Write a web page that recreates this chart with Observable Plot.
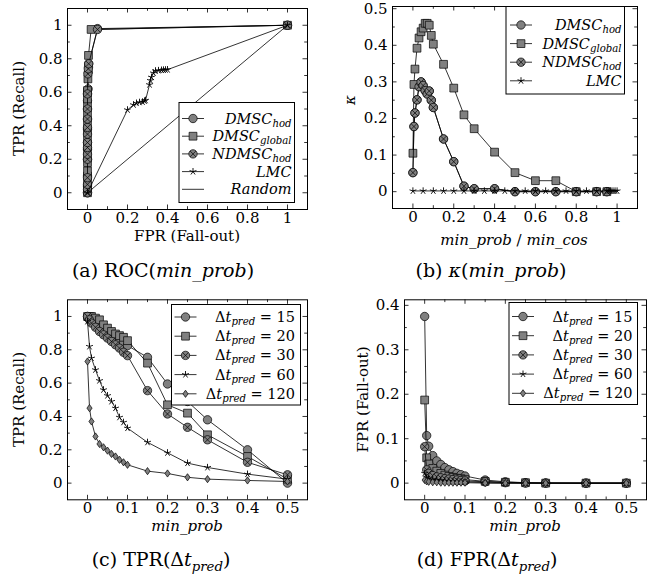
<!DOCTYPE html>
<html><head><meta charset="utf-8">
<script src="https://cdn.jsdelivr.net/npm/d3@7"></script>
<script src="https://cdn.jsdelivr.net/npm/@observablehq/plot@0.6"></script>
<style>
html,body{margin:0;padding:0;background:#fff;}
#wrap{position:relative;width:654px;height:582px;overflow:hidden;background:#fff;font-family:"DejaVu Serif",serif;}
#wrap svg{position:absolute;}
</style></head><body><div id="wrap"></div>
<script>
// ---------- (a) ROC(min_prob) ----------
const rocHodFpr = [0, 0, 0, 0, 0, 0, 0, 0, 0, 0, 0, 0.003, 0.004, 0.005, 0.006, 0.05, 1];
const rocHodTpr = [0, 0.04, 0.1, 0.2, 0.26, 0.3, 0.38, 0.44, 0.5, 0.55, 0.59, 0.62, 0.72, 0.75, 0.77, 0.98, 1];
const rocGlobalFpr = [0, 0, 0, 0, 0, 0, 0, 0, 0, 0, 0, 0, 0, 0, 0, 0, 0.002, 0.005, 0.018, 1];
const rocGlobalTpr = [0, 0.03, 0.06, 0.1, 0.13, 0.18, 0.22, 0.27, 0.32, 0.37, 0.42, 0.47, 0.52, 0.56, 0.6, 0.61, 0.68, 0.82, 0.975, 1];
const rocNdFpr = [0, 0, 0, 0, 0, 0, 0, 0, 0, 0, 0, 0, 0, 0.002, 0.004, 0.006, 0.05, 1];
const rocNdTpr = [0, 0.02, 0.05, 0.09, 0.2, 0.23, 0.27, 0.3, 0.35, 0.39, 0.44, 0.5, 0.59, 0.71, 0.74, 0.77, 0.975, 1];
const rocLmcFpr = [0, 0.2, 0.23, 0.245, 0.26, 0.275, 0.285, 0.29, 0.31, 0.315, 0.32, 0.33, 0.34, 0.355, 0.37, 0.38, 0.39, 0.4, 1];
const rocLmcTpr = [0, 0.495, 0.525, 0.535, 0.54, 0.542, 0.548, 0.552, 0.645, 0.67, 0.69, 0.715, 0.728, 0.73, 0.732, 0.733, 0.734, 0.735, 1];
const rocRandomFpr = [0, 1];
const rocRandomTpr = [0, 1];

// ---------- (b) kappa(min_prob) ----------
const kappaX = [0, 0.005, 0.01, 0.02, 0.03, 0.04, 0.05, 0.06, 0.07, 0.08, 0.09, 0.1, 0.15, 0.2, 0.25, 0.3, 0.4, 0.5, 0.6, 0.7, 0.8, 0.9, 0.95];
const kappaHod = [0.052, 0.178, 0.215, 0.251, 0.287, 0.3, 0.29, 0.276, 0.267, 0.275, 0.25, 0.23, 0.144, 0.082, 0.015, 0.008, 0.008, 0, 0, 0, 0, 0, 0];
const kappaGlobal = [0.105, 0.293, 0.335, 0.392, 0.42, 0.437, 0.447, 0.46, 0.46, 0.455, 0.427, 0.403, 0.348, 0.283, 0.21, 0.172, 0.108, 0.052, 0.03, 0.03, 0, 0, 0];
const kappaNd = [0.052, 0.178, 0.215, 0.251, 0.287, 0.3, 0.29, 0.276, 0.267, 0.275, 0.25, 0.23, 0.144, 0.082, 0.015, 0.008, 0.008, 0, 0, 0, 0, 0, 0];
const kappaLmcX = [0, 0.05, 0.1, 0.15, 0.2, 0.25, 0.3, 0.35, 0.4, 0.45, 0.5, 0.55, 0.6, 0.65, 0.7, 0.75, 0.8, 0.85, 0.9, 0.95, 0.96, 0.97, 0.98, 0.99, 1];
const kappaLmc = [0.002, 0.002, 0.002, 0.002, 0.002, 0.002, 0.002, 0.002, 0.002, 0.002, 0.002, 0.002, 0.002, 0.002, 0.002, 0.002, 0.002, 0.002, 0.002, 0.002, 0.002, 0.002, 0.002, 0.002, 0.002];

// ---------- (c) TPR(dt_pred), (d) FPR(dt_pred) ----------
const minProb = [0, 0.005, 0.01, 0.02, 0.03, 0.04, 0.05, 0.06, 0.07, 0.08, 0.09, 0.1, 0.15, 0.2, 0.25, 0.3, 0.4, 0.5];
const tpr15  = [1.0, 0.99, 0.98, 0.96, 0.94, 0.925, 0.905, 0.89, 0.87, 0.855, 0.84, 0.825, 0.755, 0.595, 0.49, 0.38, 0.2, 0.0];
const tpr20  = [1.0, 1.0, 1.0, 0.99, 0.98, 0.95, 0.93, 0.91, 0.895, 0.885, 0.875, 0.855, 0.72, 0.47, 0.42, 0.29, 0.16, 0.024];
const tpr30  = [1.0, 0.98, 0.96, 0.935, 0.91, 0.89, 0.87, 0.85, 0.83, 0.81, 0.785, 0.765, 0.555, 0.415, 0.335, 0.26, 0.125, 0.05];
const tpr60  = [0.97, 0.82, 0.75, 0.68, 0.615, 0.56, 0.525, 0.49, 0.45, 0.395, 0.365, 0.33, 0.245, 0.182, 0.12, 0.094, 0.054, 0.024];
const tpr120 = [0.73, 0.45, 0.37, 0.28, 0.235, 0.215, 0.195, 0.175, 0.16, 0.14, 0.125, 0.11, 0.072, 0.058, 0.035, 0.024, 0.016, 0.01];
const fpr15  = [0.375, 0.107, 0.083, 0.062, 0.05, 0.042, 0.035, 0.03, 0.026, 0.022, 0.019, 0.016, 0.007, 0.003, 0.001, 0.0005, 0, 0];
const fpr20  = [0.187, 0.057, 0.043, 0.033, 0.027, 0.022, 0.018, 0.015, 0.013, 0.011, 0.01, 0.008, 0.004, 0.002, 0.001, 0, 0, 0];
const fpr30  = [0.082, 0.03, 0.022, 0.017, 0.014, 0.012, 0.01, 0.009, 0.008, 0.007, 0.006, 0.005, 0.003, 0.001, 0, 0, 0, 0];
const fpr60  = [0.022, 0.013, 0.01, 0.008, 0.007, 0.006, 0.005, 0.004, 0.004, 0.003, 0.003, 0.003, 0.001, 0, 0, 0, 0, 0];
const fpr120 = [0.007, 0.004, 0.003, 0.002, 0.002, 0.001, 0.001, 0.001, 0.001, 0.001, 0.001, 0.001, 0, 0, 0, 0, 0, 0];

// ---------- ticks ----------
const ticks01 = [0, 0.2, 0.4, 0.6, 0.8, 1];
const ticks01Minor = [0.1, 0.3, 0.5, 0.7, 0.9];
const ticksHalf = [0, 0.1, 0.2, 0.3, 0.4, 0.5];
const ticksHalfMinor = [0.05, 0.15, 0.25, 0.35, 0.45];
const ticksKappa = [0, 0.1, 0.2, 0.3, 0.4, 0.5];
const ticksKappaMinor = [0.05, 0.15, 0.25, 0.35, 0.45];
const ticksFpr = [0, 0.1, 0.2, 0.3, 0.4];
const ticksFprMinor = [0.05, 0.15, 0.25, 0.35];

// ---------- markers ----------
const GRAY = "#808080";
const rad = s => Math.sqrt(s / Math.PI);
const symCircle = {draw(c, s){ const r = rad(s); c.moveTo(r, 0); c.arc(0, 0, r, 0, 2*Math.PI); c.closePath(); }};
const symSquare = {draw(c, s){ const r = rad(s); c.rect(-r, -r, 2*r, 2*r); }};
const symOtimes = {draw(c, s){ const r = rad(s); c.moveTo(r, 0); c.arc(0, 0, r, 0, 2*Math.PI); c.closePath();
  const k = r*Math.SQRT1_2; c.moveTo(-k, -k); c.lineTo(k, k); c.moveTo(-k, k); c.lineTo(k, -k); }};
const symStar = {draw(c, s){ const r = rad(s); for (let i = 0; i < 5; i++){ const a = -Math.PI/2 + i*2*Math.PI/5; c.moveTo(0, 0); c.lineTo(r*Math.cos(a), r*Math.sin(a)); } }};
const symDiamond = {draw(c, s){ const r = rad(s); const w = 0.72*r; c.moveTo(0, -r); c.lineTo(w, 0); c.lineTo(0, r); c.lineTo(-w, 0); c.closePath(); }};

const STY = {
  circle:  {symbol: symCircle,  r: 4.2, fill: GRAY, stroke: "black", strokeWidth: 0.7},
  square:  {symbol: symSquare,  r: 3.9, fill: GRAY, stroke: "black", strokeWidth: 0.7},
  otimes:  {symbol: symOtimes,  r: 4.2, fill: GRAY, stroke: "black", strokeWidth: 0.7},
  star:    {symbol: symStar,    r: 3.6, fill: "none", stroke: "black", strokeWidth: 0.9},
  diamond: {symbol: symDiamond, r: 3.6, fill: GRAY, stroke: "black", strokeWidth: 0.7},
  none: null
};

function rows(xs, ys){ return xs.map((x, i) => ({x, y: ys[i]})); }
function series(xs, ys, kind){
  const t = rows(xs, ys);
  const m = [Plot.line(t, {x: "x", y: "y", stroke: "black", strokeWidth: 0.8})];
  if (STY[kind]) m.push(Plot.dot(t, {x: "x", y: "y", ...STY[kind]}));
  return m;
}

const wrap = document.getElementById("wrap");

function panel(o){
  const fw = o.width - o.ml - o.mr, fh = o.height - o.mt - o.mb;
  const MJ = 4.5, MN = 2.8;
  const tk = [];
  for (const [arr, L] of [[o.xTicks, MJ], [o.xMinor, MN]]) {
    tk.push(Plot.tickX(arr, {x: d => d, insetTop: fh - L, stroke: "black", strokeWidth: 0.8}));
    tk.push(Plot.tickX(arr, {x: d => d, insetBottom: fh - L, stroke: "black", strokeWidth: 0.8}));
  }
  for (const [arr, L] of [[o.yTicks, MJ], [o.yMinor, MN]]) {
    tk.push(Plot.tickY(arr, {y: d => d, insetRight: fw - L, stroke: "black", strokeWidth: 0.8}));
    tk.push(Plot.tickY(arr, {y: d => d, insetLeft: fw - L, stroke: "black", strokeWidth: 0.8}));
  }
  const svg = Plot.plot({
    width: o.width, height: o.height,
    marginLeft: o.ml, marginRight: o.mr, marginTop: o.mt, marginBottom: o.mb,
    x: {domain: o.xDomain}, y: {domain: o.yDomain},
    style: {fontFamily: "DejaVu Serif", fontSize: "15px", background: "transparent", color: "black", overflow: "visible"},
    marks: [
      ...o.marks,
      ...tk,
      Plot.frame({stroke: "black", strokeWidth: 1}),
      Plot.axisX(o.xTicks, {anchor: "bottom", tickSize: 0, tickPadding: 3, label: null, tickFormat: d => String(d), fill: "black"}),
      Plot.axisY(o.yTicks, {anchor: "left", tickSize: 0, tickPadding: 5, label: null, tickFormat: d => String(d), fill: "black"})
    ]
  });
  svg.style.left = o.left + "px";
  svg.style.top = o.top + "px";
  wrap.appendChild(svg);
}

// (a)
panel({left: 0, top: 0, width: 320, height: 240, ml: 67, mr: 13, mt: 8, mb: 31,
  xDomain: [-0.1, 1.1], yDomain: [-0.1, 1.1],
  xTicks: ticks01, xMinor: ticks01Minor, yTicks: ticks01, yMinor: ticks01Minor,
  marks: [
    ...series(rocHodFpr, rocHodTpr, "circle"),
    ...series(rocGlobalFpr, rocGlobalTpr, "square"),
    ...series(rocNdFpr, rocNdTpr, "otimes"),
    ...series(rocLmcFpr, rocLmcTpr, "star"),
    ...series(rocRandomFpr, rocRandomTpr, "none")
  ]});
// (b)
panel({left: 330, top: 0, width: 324, height: 240, ml: 62, mr: 17, mt: 6, mb: 32,
  xDomain: [-0.1, 1.1], yDomain: [-0.046, 0.506],
  xTicks: ticks01, xMinor: ticks01Minor, yTicks: ticksKappa, yMinor: ticksKappaMinor,
  marks: [
    ...series(kappaX, kappaHod, "circle"),
    ...series(kappaX, kappaGlobal, "square"),
    ...series(kappaX, kappaNd, "otimes"),
    ...series(kappaLmcX, kappaLmc, "star")
  ]});
// (c)
panel({left: 0, top: 290, width: 320, height: 240, ml: 67, mr: 13, mt: 9.3, mb: 30.7,
  xDomain: [-0.05, 0.55], yDomain: [-0.1, 1.1],
  xTicks: ticksHalf, xMinor: ticksHalfMinor, yTicks: ticks01, yMinor: ticks01Minor,
  marks: [
    ...series(minProb, tpr15, "circle"),
    ...series(minProb, tpr20, "square"),
    ...series(minProb, tpr30, "otimes"),
    ...series(minProb, tpr60, "star"),
    ...series(minProb, tpr120, "diamond")
  ]});
// (d)
panel({left: 330, top: 290, width: 324, height: 240, ml: 74, mr: 8, mt: 9.3, mb: 30.7,
  xDomain: [-0.05, 0.55], yDomain: [-0.0375, 0.4125],
  xTicks: ticksHalf, xMinor: ticksHalfMinor, yTicks: ticksFpr, yMinor: ticksFprMinor,
  marks: [
    ...series(minProb, fpr15, "circle"),
    ...series(minProb, fpr20, "square"),
    ...series(minProb, fpr30, "otimes"),
    ...series(minProb, fpr60, "star"),
    ...series(minProb, fpr120, "diamond")
  ]});

// ---------- overlay: legends, axis titles, captions ----------
const ov = d3.select(wrap).append("svg").attr("width", 654).attr("height", 582)
  .style("left", "0px").style("top", "0px")
  .attr("font-family", "DejaVu Serif").attr("fill", "black");

function richText(g, x, y, parts, opt = {}){
  const base = opt.size || 15;
  const t = g.append("text").attr("x", x).attr("y", y)
    .attr("text-anchor", opt.anchor || "middle").attr("font-size", base);
  if (opt.rotate) t.attr("transform", `rotate(-90 ${x} ${y})`);
  let shift = 0;
  for (const p of parts) {
    const s = t.append("tspan").text(p.t);
    if (p.i) s.attr("font-style", "italic");
    const want = p.sub ? (opt.subShift ?? Math.round(base * 0.27)) : 0;
    if (want !== shift) { s.attr("dy", want - shift); shift = want; }
    if (p.sub) s.attr("font-size", base * 0.7);
  }
  return t;
}

const markerPath = sym => { const p = d3.path(); sym.symbol.draw(p, Math.PI * sym.r * sym.r); return p.toString(); };

function legend(box, entries){
  const g = ov.append("g");
  g.append("rect").attr("x", box.x).attr("y", box.y).attr("width", box.w).attr("height", box.h)
    .attr("fill", "white").attr("stroke", "black").attr("stroke-width", 1);
  entries.forEach((e, i) => {
    const cy = box.y0 + i * box.dy;
    g.append("line").attr("x1", box.sx0).attr("x2", box.sx1).attr("y1", cy).attr("y2", cy)
      .attr("stroke", "black").attr("stroke-width", 0.8);
    if (STY[e.kind]) {
      const s = STY[e.kind];
      g.append("path").attr("d", markerPath(s)).attr("transform", `translate(${(box.sx0 + box.sx1)/2},${cy})`)
        .attr("fill", s.fill).attr("stroke", s.stroke).attr("stroke-width", s.strokeWidth);
    }
    richText(g, box.tx, cy + 5, e.parts, {anchor: "end", size: 14.5, subShift: 3});
  });
}

const lbl = (name, sub) => [{t: name, i: true}, {t: sub, i: true, sub: true}];
const dtp = v => [{t: "Δ"}, {t: "t", i: true}, {t: "pred", i: true, sub: true}, {t: " = " + v}];

legend({x: 179, y: 102.5, w: 115.5, h: 100, y0: 118.5, dy: 17.7, sx0: 182, sx1: 204, tx: 291.5}, [
  {kind: "circle", parts: lbl("DMSC", "hod")},
  {kind: "square", parts: lbl("DMSC", "global")},
  {kind: "otimes", parts: lbl("NDMSC", "hod")},
  {kind: "star", parts: [{t: "LMC", i: true}]},
  {kind: "none", parts: [{t: "Random", i: true}]}
]);
legend({x: 506, y: 6.5, w: 118.5, h: 87.5, y0: 25, dy: 18.6, sx0: 510, sx1: 532, tx: 621.5}, [
  {kind: "circle", parts: lbl("DMSC", "hod")},
  {kind: "square", parts: lbl("DMSC", "global")},
  {kind: "otimes", parts: lbl("NDMSC", "hod")},
  {kind: "star", parts: [{t: "LMC", i: true}]}
]);
legend({x: 171.5, y: 304.5, w: 129, h: 100.5, y0: 317, dy: 19.2, sx0: 174.5, sx1: 196.5, tx: 295}, [
  {kind: "circle", parts: dtp(15)},
  {kind: "square", parts: dtp(20)},
  {kind: "otimes", parts: dtp(30)},
  {kind: "star", parts: dtp(60)},
  {kind: "diamond", parts: dtp(120)}
]);
legend({x: 509, y: 302.5, w: 128.5, h: 102, y0: 316.5, dy: 19.2, sx0: 512, sx1: 534, tx: 632.5}, [
  {kind: "circle", parts: dtp(15)},
  {kind: "square", parts: dtp(20)},
  {kind: "otimes", parts: dtp(30)},
  {kind: "star", parts: dtp(60)},
  {kind: "diamond", parts: dtp(120)}
]);

// axis titles
richText(ov, 187, 241, [{t: "FPR (Fall-out)"}]);
richText(ov, 514, 245, [{t: "min_prob", i: true}, {t: " / "}, {t: "min_cos", i: true}]);
richText(ov, 187, 531, [{t: "min_prob", i: true}]);
richText(ov, 525, 531, [{t: "min_prob", i: true}]);
richText(ov, 24, 108.5, [{t: "TPR (Recall)"}], {rotate: true});
richText(ov, 355, 100, [{t: "κ", i: true}], {rotate: true});
richText(ov, 24, 399.5, [{t: "TPR (Recall)"}], {rotate: true});
richText(ov, 368, 399.5, [{t: "FPR (Fall-out)"}], {rotate: true});

// captions
richText(ov, 163, 277, [{t: "(a) ROC("}, {t: "min_prob", i: true}, {t: ")"}], {size: 19});
richText(ov, 491, 277, [{t: "(b) "}, {t: "κ", i: true}, {t: "("}, {t: "min_prob", i: true}, {t: ")"}], {size: 19});
richText(ov, 161, 566, [{t: "(c) TPR(Δ"}, {t: "t", i: true}, {t: "pred", i: true, sub: true}, {t: ")"}], {size: 19});
richText(ov, 487, 566, [{t: "(d) FPR(Δ"}, {t: "t", i: true}, {t: "pred", i: true, sub: true}, {t: ")"}], {size: 19});
</script></body></html>
